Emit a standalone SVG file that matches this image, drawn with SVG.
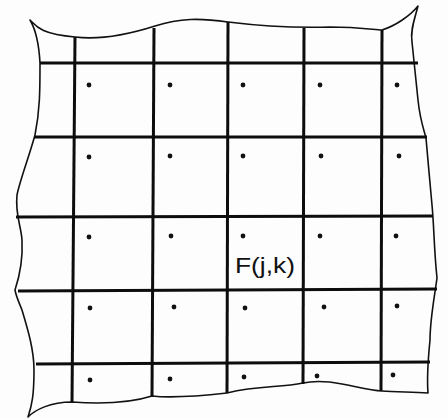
<svg xmlns="http://www.w3.org/2000/svg" width="448" height="419" viewBox="0 0 448 419">
<style>
.edge{fill:none;stroke:#111;stroke-width:1.6;stroke-linejoin:round}
.g{stroke:#0d0d0d;stroke-width:3;stroke-linecap:butt;fill:none}
.d{fill:#111}
.t{font-family:"Liberation Sans",Arial,sans-serif;font-size:22px;fill:#111}
</style>
<rect width="448" height="419" fill="#fdfdfd"/>
<g id="sheet">
<path class="edge" d="M30,20 C36,26 40,34 75,37 C100,40 130,34 155,26 C180,18 200,18 228,22 C260,26 290,28 330,27 C360,27 375,30 382,30 C395,26 410,16 418,6 C415,18 410,30 412,42 C414,60 416,80 418,100 C420,120 424,130 426,138 C428,160 430,185 432,205 C434,225 434,250 437,278 C434,300 430,320 430,340 C428,360 427,380 428,393 C410,392 395,392 382,391 C360,390 330,377 303,383 C280,388 260,385 227,393 C200,396 170,398 152,396 C130,403 100,404 72,402 C50,402 35,410 28,417 C32,405 34,395 34,370 C34,350 28,330 22,310 C18,300 16,296 15,290 C20,275 23,260 22,240 C21,225 15,215 17,195 C20,180 28,160 35,135 C40,110 40,90 40,63 C39,45 36,30 30,20 Z"/>
</g>
<g id="grid">
<line class="g" x1="40" y1="63" x2="418" y2="63"/>
<line class="g" x1="34" y1="137" x2="427" y2="137"/>
<line class="g" x1="16" y1="217" x2="433" y2="216"/>
<line class="g" x1="18" y1="291" x2="437" y2="289"/>
<line class="g" x1="36" y1="364" x2="430" y2="362"/>
<line class="g" x1="75" y1="37" x2="72" y2="402"/>
<line class="g" x1="154" y1="28" x2="152" y2="396"/>
<line class="g" x1="228" y1="22" x2="227" y2="393"/>
<line class="g" x1="304" y1="28" x2="303" y2="384"/>
<line class="g" x1="382" y1="30" x2="381" y2="391"/>
</g>
<g id="dots">
<circle class="d" cx="89" cy="85" r="2.4"/><circle class="d" cx="170" cy="85" r="2.4"/><circle class="d" cx="243" cy="85" r="2.4"/><circle class="d" cx="320" cy="85" r="2.4"/><circle class="d" cx="397" cy="85" r="2.4"/>
<circle class="d" cx="89" cy="157" r="2.4"/><circle class="d" cx="170" cy="156" r="2.4"/><circle class="d" cx="243" cy="156" r="2.4"/><circle class="d" cx="321" cy="156" r="2.4"/><circle class="d" cx="399" cy="156" r="2.4"/>
<circle class="d" cx="89" cy="237" r="2.4"/><circle class="d" cx="171" cy="236" r="2.4"/><circle class="d" cx="243" cy="236" r="2.4"/><circle class="d" cx="320" cy="236" r="2.4"/><circle class="d" cx="396" cy="236" r="2.4"/>
<circle class="d" cx="90" cy="308" r="2.4"/><circle class="d" cx="174" cy="307" r="2.4"/><circle class="d" cx="245" cy="308" r="2.4"/><circle class="d" cx="324" cy="307" r="2.4"/><circle class="d" cx="397" cy="306" r="2.4"/>
<circle class="d" cx="90" cy="380" r="2.4"/><circle class="d" cx="170" cy="379" r="2.4"/><circle class="d" cx="244" cy="377" r="2.4"/><circle class="d" cx="317" cy="376" r="2.4"/><circle class="d" cx="393" cy="375" r="2.4"/>
</g>
<g id="label">
<text class="t" x="235" y="273" textLength="60" lengthAdjust="spacingAndGlyphs">F(j,k)</text>
</g>
</svg>
